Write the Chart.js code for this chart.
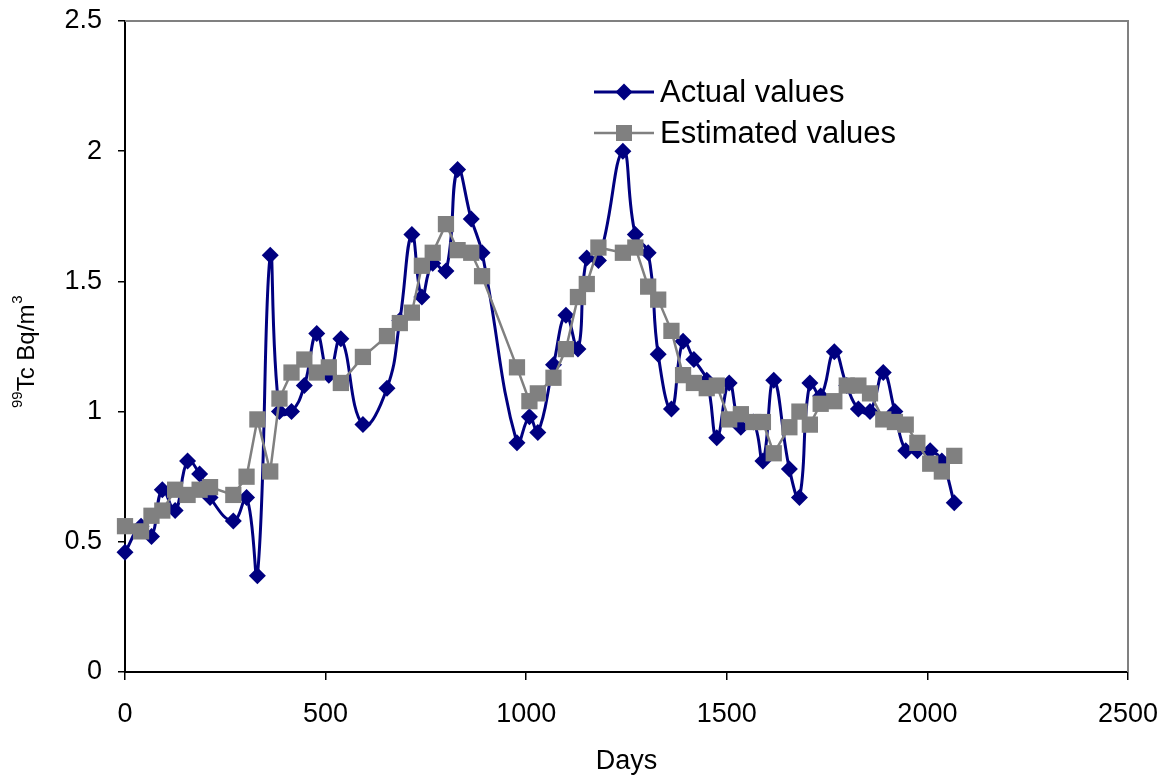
<!DOCTYPE html>
<html>
<head>
<meta charset="utf-8">
<script src="https://cdn.jsdelivr.net/npm/chart.js@4.4.0/dist/chart.umd.min.js"></script>
<style>
  body { margin: 0; background: #fff; }
  #wrap { width: 1157px; height: 780px; }
</style>
</head>
<body>
<div id="wrap"><canvas id="chart"></canvas></div>
<script>
// datos
const days = [0, 40, 66, 93, 125, 156, 186, 212, 270, 303, 330, 362, 385, 415, 447, 478, 508, 538, 593, 653,
  685, 715, 740, 767, 800, 829, 863, 890, 977, 1008, 1029, 1068, 1099, 1129, 1151, 1180, 1241, 1272, 1304, 1329,
  1362, 1391, 1418, 1450, 1475, 1506, 1535, 1566, 1590, 1617, 1656, 1681, 1707, 1734, 1768, 1799, 1828, 1857, 1890, 1919,
  1946, 1975, 2007, 2036, 2067];
const actual = [0.46, 0.56, 0.52, 0.70, 0.62, 0.81, 0.76, 0.67, 0.58, 0.67, 0.37, 1.60, 1.00, 1.00, 1.10, 1.30, 1.14, 1.28, 0.95, 1.09,
  1.35, 1.68, 1.44, 1.57, 1.54, 1.93, 1.74, 1.61, 0.88, 0.98, 0.92, 1.18, 1.37, 1.24, 1.59, 1.58, 2.00, 1.68, 1.61, 1.22,
  1.01, 1.27, 1.20, 1.12, 0.90, 1.11, 0.94, 0.96, 0.81, 1.12, 0.78, 0.67, 1.11, 1.06, 1.23, 1.10, 1.01, 1.00, 1.15, 1.00,
  0.85, 0.85, 0.85, 0.81, 0.65];
const estimated = [0.56, 0.54, 0.60, 0.62, 0.70, 0.68, 0.70, 0.71, 0.68, 0.75, 0.97, 0.77, 1.05, 1.15, 1.20, 1.15, 1.17, 1.11, 1.21, 1.29,
  1.34, 1.38, 1.56, 1.61, 1.72, 1.62, 1.61, 1.52, 1.17, 1.04, 1.07, 1.13, 1.24, 1.44, 1.49, 1.63, 1.61, 1.63, 1.48, 1.43,
  1.31, 1.14, 1.11, 1.09, 1.10, 0.97, 0.99, 0.96, 0.96, 0.84, 0.94, 1.00, 0.95, 1.03, 1.04, 1.10, 1.10, 1.07, 0.97, 0.96,
  0.95, 0.88, 0.80, 0.77, 0.83];
const seriesNames = ['Actual values', 'Estimated values'];
const xTicks = [0, 500, 1000, 1500, 2000, 2500];
const yTicks = [0, 0.5, 1, 1.5, 2, 2.5];

const FONT = "'Liberation Sans', Arial, sans-serif";
const NAVY = '#000080';
const GRAY = '#808080';

const toPoints = vals => days.map((d, i) => ({ x: d, y: vals[i] }));

// marco gris, leyenda y titulo del eje y
const extras = {
  id: 'extras',
  beforeDatasetsDraw(chart) {
    const { ctx, chartArea: a } = chart;
    ctx.save();
    ctx.strokeStyle = GRAY;
    ctx.lineWidth = 2;
    ctx.beginPath();
    ctx.moveTo(a.left, a.top);
    ctx.lineTo(a.right, a.top);
    ctx.lineTo(a.right, a.bottom);
    ctx.stroke();
    ctx.restore();
  },
  afterDraw(chart) {
    const ctx = chart.ctx;
    ctx.save();
    // leyenda
    const rows = [92, 133];
    chart.data.datasets.forEach((ds, i) => {
      const y = rows[i];
      ctx.strokeStyle = ds.borderColor;
      ctx.lineWidth = ds.borderWidth;
      ctx.beginPath();
      ctx.moveTo(594, y);
      ctx.lineTo(654, y);
      ctx.stroke();
      ctx.fillStyle = ds.pointBackgroundColor;
      if (ds.pointStyle === 'rectRot') {
        const r = 8.5;
        ctx.beginPath();
        ctx.moveTo(624 - r, y); ctx.lineTo(624, y - r); ctx.lineTo(624 + r, y); ctx.lineTo(624, y + r);
        ctx.closePath();
        ctx.fill();
      } else {
        ctx.fillRect(616, y - 8, 16, 16);
      }
      ctx.fillStyle = '#000';
      ctx.font = '31px ' + FONT;
      ctx.textBaseline = 'middle';
      ctx.textAlign = 'left';
      ctx.fillText(ds.label, 660, y + 1);
    });
    // titulo eje y con superindices
    ctx.translate(34, 408);
    ctx.rotate(-Math.PI / 2);
    ctx.textBaseline = 'alphabetic';
    ctx.fillStyle = '#000';
    let x = 0;
    ctx.font = '15px ' + FONT;
    ctx.fillText('99', x, -12);
    x += ctx.measureText('99').width;
    ctx.font = '24px ' + FONT;
    ctx.fillText('Tc Bq/m', x, 0);
    x += ctx.measureText('Tc Bq/m').width;
    ctx.font = '15px ' + FONT;
    ctx.fillText('3', x + 1, -12);
    ctx.restore();
  }
};

new Chart(document.getElementById('chart'), {
  type: 'scatter',
  data: {
    datasets: [
      {
        label: seriesNames[0],
        data: toPoints(actual),
        showLine: true,
        borderColor: NAVY,
        backgroundColor: NAVY,
        pointBackgroundColor: NAVY,
        pointBorderColor: NAVY,
        borderWidth: 3,
        pointStyle: 'rectRot',
        pointRadius: 8.5,
        pointBorderWidth: 0,
        tension: 0.45,
        clip: false,
        order: 1
      },
      {
        label: seriesNames[1],
        data: toPoints(estimated),
        showLine: true,
        borderColor: GRAY,
        backgroundColor: GRAY,
        pointBackgroundColor: GRAY,
        pointBorderColor: GRAY,
        borderWidth: 2.5,
        pointStyle: 'rect',
        pointRadius: 11.5,
        pointBorderWidth: 0,
        tension: 0,
        clip: false,
        order: 0
      }
    ]
  },
  options: {
    responsive: true,
    maintainAspectRatio: false,
    animation: false,
    events: [],
    layout: { padding: { top: 21, right: 29, left: 0, bottom: 0 } },
    plugins: {
      legend: { display: false },
      tooltip: { enabled: false }
    },
    scales: {
      x: {
        type: 'linear',
        min: 0,
        max: 2500,
        afterBuildTicks: s => { s.ticks = xTicks.map(v => ({ value: v })); },
        afterFit: s => { s.height = 108; s.paddingLeft = 0; s.paddingRight = 0; },
        ticks: {
          color: '#000',
          font: { family: FONT, size: 27 },
          padding: 18,
          maxRotation: 0,
          callback: v => String(v)
        },
        grid: { drawOnChartArea: false, tickLength: 8, color: '#000', lineWidth: 1.5 },
        border: { color: '#000', width: 2 },
        title: {
          display: true,
          text: 'Days',
          color: '#000',
          font: { family: FONT, size: 27 },
          padding: { top: 0, bottom: 2 }
        }
      },
      y: {
        min: 0,
        max: 2.5,
        afterBuildTicks: s => { s.ticks = yTicks.map(v => ({ value: v })); },
        afterFit: s => { s.width = 125; s.paddingTop = 0; s.paddingBottom = 0; },
        ticks: {
          color: '#000',
          font: { family: FONT, size: 27 },
          padding: 16,
          callback: v => String(v)
        },
        grid: { drawOnChartArea: false, tickLength: 7, color: '#000', lineWidth: 1.5 },
        border: { color: '#000', width: 2 }
      }
    }
  },
  plugins: [extras]
});
</script>
</body>
</html>
